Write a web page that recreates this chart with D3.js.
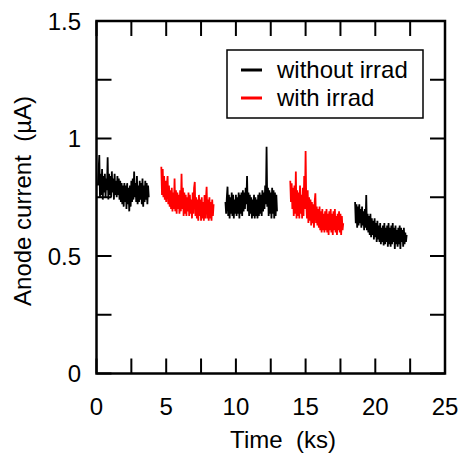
<!DOCTYPE html>
<html><head><meta charset="utf-8">
<script src="https://cdn.jsdelivr.net/npm/d3@7"></script>
<style>body{margin:0;background:#fff}svg{display:block}text{font-family:"Liberation Sans",Arial,sans-serif;white-space:pre}</style>
</head><body><svg id="c" width="463" height="454"></svg>
<script>
// Segment start times (ks) and sampling step (ks)
const segStart = [0.1, 4.65, 9.25, 13.9, 18.55];
const segStep = [0.05, 0.05, 0.05, 0.05, 0.05];
const segSeries = ["without irrad", "with irrad", "without irrad", "with irrad", "without irrad"];
// Anode current values (µA)
const seg1 = [0.80,0.86,0.93,0.75,0.85,0.76,0.87,0.74,0.84,0.77,
  0.85,0.75,0.83,0.78,0.92,0.74,0.85,0.76,0.84,0.75,
  0.86,0.77,0.83,0.74,0.85,0.76,0.82,0.75,0.84,0.76,
  0.83,0.74,0.82,0.73,0.81,0.72,0.80,0.71,0.81,0.73,
  0.80,0.70,0.81,0.72,0.79,0.69,0.80,0.71,0.82,0.73,
  0.83,0.74,0.86,0.75,0.81,0.73,0.84,0.72,0.80,0.73,
  0.82,0.74,0.81,0.72,0.83,0.71,0.80,0.73,0.82,0.74,
  0.81,0.72,0.80,0.75];
const seg2 = [0.88,0.76,0.87,0.75,0.84,0.74,0.82,0.73,0.80,0.84,
  0.72,0.80,0.71,0.78,0.70,0.79,0.69,0.77,0.70,0.83,
  0.69,0.78,0.68,0.77,0.70,0.76,0.68,0.78,0.69,0.85,
  0.70,0.79,0.67,0.77,0.68,0.76,0.67,0.75,0.69,0.77,
  0.67,0.76,0.68,0.74,0.66,0.77,0.68,0.79,0.815,0.67,
  0.75,0.66,0.74,0.65,0.76,0.67,0.74,0.65,0.75,0.66,
  0.73,0.65,0.76,0.66,0.74,0.795,0.66,0.74,0.65,0.75,
  0.66,0.73,0.65,0.74,0.67,0.72];
const seg3 = [0.73,0.68,0.75,0.795,0.67,0.76,0.66,0.75,0.68,0.77,
  0.67,0.76,0.66,0.74,0.68,0.76,0.67,0.75,0.68,0.77,
  0.66,0.76,0.68,0.77,0.67,0.78,0.69,0.77,0.70,0.79,
  0.72,0.84,0.69,0.77,0.67,0.76,0.68,0.75,0.66,0.74,
  0.67,0.76,0.66,0.75,0.67,0.74,0.66,0.76,0.67,0.77,
  0.68,0.76,0.67,0.78,0.69,0.77,0.70,0.80,0.72,0.965,
  0.71,0.79,0.67,0.78,0.68,0.77,0.66,0.79,0.68,0.78,
  0.66,0.77,0.67,0.76,0.69];
const seg4 = [0.82,0.73,0.81,0.70,0.79,0.67,0.80,0.68,0.86,0.66,
  0.78,0.67,0.77,0.66,0.80,0.68,0.76,0.66,0.79,0.67,
  0.84,0.70,0.947,0.72,0.66,0.78,0.64,0.75,0.65,0.74,
  0.63,0.73,0.64,0.72,0.62,0.73,0.767,0.64,0.71,0.63,
  0.70,0.62,0.71,0.61,0.69,0.60,0.70,0.61,0.68,0.60,
  0.69,0.61,0.70,0.60,0.68,0.59,0.69,0.61,0.70,0.60,
  0.68,0.59,0.69,0.61,0.70,0.60,0.67,0.59,0.68,0.61,
  0.69,0.60,0.68,0.59,0.67,0.61,0.64];
const seg5 = [0.73,0.64,0.72,0.62,0.71,0.63,0.72,0.64,0.70,0.62,
  0.71,0.63,0.69,0.61,0.70,0.62,0.76,0.61,0.68,0.60,
  0.67,0.59,0.68,0.58,0.66,0.59,0.65,0.57,0.66,0.58,
  0.64,0.56,0.65,0.57,0.63,0.56,0.64,0.55,0.62,0.56,
  0.63,0.545,0.64,0.55,0.62,0.56,0.63,0.54,0.64,0.55,
  0.62,0.54,0.63,0.55,0.64,0.56,0.62,0.53,0.63,0.55,
  0.61,0.54,0.62,0.55,0.63,0.53,0.62,0.56,0.61,0.54,
  0.62,0.55,0.60,0.56,0.59];
const segValues = [seg1, seg2, seg3, seg4, seg5];
const xTicks = [0, 5, 10, 15, 20, 25];
const yTicks = [0, 0.5, 1, 1.5];
const legendLabels = ["without irrad", "with irrad"];

const color = d3.scaleOrdinal().domain(legendLabels).range(["#000000", "#ff0000"]);
const svg = d3.select("#c");
const L = 96.5, R = 445, T = 21, B = 373.5;
const x = d3.scaleLinear().domain([0, 25]).range([L, R]);
const y = d3.scaleLinear().domain([0, 1.5]).range([B, T]);

const line = d3.line().x(d => x(d[0])).y(d => y(d[1]));
segValues.forEach((vals, k) => {
  const pts = vals.map((v, i) => [segStart[k] + i * segStep[k], v]);
  svg.append("path").attr("d", line(pts)).attr("fill", "none")
    .attr("stroke", color(segSeries[k])).attr("stroke-width", 1.8).attr("stroke-linejoin", "bevel");
});

const tl = 15;
const minorX = d3.range(0, 25.01, 2.5), minorY = d3.range(0, 1.501, 0.25);
const g = svg.append("g").attr("stroke", "#000").attr("stroke-width", 2);
minorX.forEach(v => {
  g.append("line").attr("x1", x(v)).attr("x2", x(v)).attr("y1", B).attr("y2", B - tl);
  g.append("line").attr("x1", x(v)).attr("x2", x(v)).attr("y1", T).attr("y2", T + tl);
});
minorY.forEach(v => {
  g.append("line").attr("y1", y(v)).attr("y2", y(v)).attr("x1", L).attr("x2", L + tl);
  g.append("line").attr("y1", y(v)).attr("y2", y(v)).attr("x1", R).attr("x2", R - tl);
});
svg.append("rect").attr("x", L).attr("y", T).attr("width", R - L).attr("height", B - T)
  .attr("fill", "none").attr("stroke", "#000").attr("stroke-width", 2.5);

svg.selectAll(".xt").data(xTicks).enter().append("text")
  .attr("x", d => x(d)).attr("y", 415).attr("text-anchor", "middle").attr("font-size", 24).text(d => d);
svg.selectAll(".yt").data(yTicks).enter().append("text")
  .attr("x", 81).attr("y", d => y(d) + 8.5).attr("text-anchor", "end").attr("font-size", 24).text(d => d);

svg.append("text").attr("x", 283).attr("y", 448).attr("text-anchor", "middle").attr("font-size", 24).text("Time  (ks)");
svg.append("text").attr("transform", "translate(31,201) rotate(-90)").attr("text-anchor", "middle")
  .attr("font-size", 24).text("Anode current  (\u00b5A)");

const lg = svg.append("g");
lg.append("rect").attr("x", 227).attr("y", 50).attr("width", 196).attr("height", 68)
  .attr("fill", "#fff").attr("stroke", "#000").attr("stroke-width", 1.5);
legendLabels.forEach((lab, i) => {
  const yy = 70 + i * 28;
  lg.append("line").attr("x1", 241).attr("x2", 262).attr("y1", yy).attr("y2", yy)
    .attr("stroke", color(lab)).attr("stroke-width", 3);
  lg.append("text").attr("x", 277).attr("y", yy + 8).attr("font-size", 24).text(lab);
});
</script></body></html>
